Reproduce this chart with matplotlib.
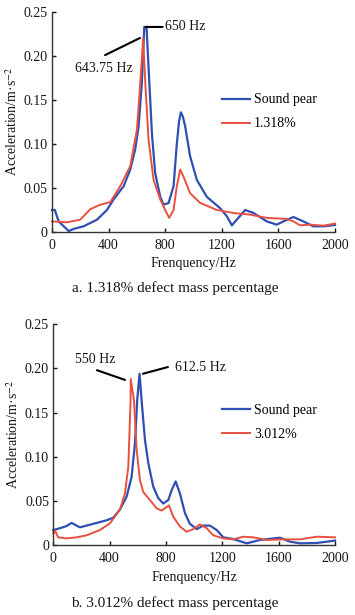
import matplotlib
matplotlib.use("Agg")
import matplotlib.pyplot as plt

plt.rcParams['font.family'] = ['Liberation Serif', 'DejaVu Serif']
plt.rcParams['mathtext.fontset'] = 'stix'

# ---- Panel a data ----
a_sound_f = [0, 20, 47, 118, 153, 224, 318, 388, 435, 506, 553, 588, 612, 635, 652, 668,
             682, 706, 729, 765, 788, 824, 859, 882, 898, 911, 925, 941, 976, 1024, 1094, 1188, 1235,
             1271, 1306, 1365, 1424, 1518, 1588, 1635, 1706, 1776, 1847, 1918, 2000]
a_sound_v = [0.025, 0.025, 0.012, 0.001, 0.0035, 0.0065, 0.014, 0.025, 0.037, 0.052, 0.071,
             0.094, 0.12, 0.17, 0.233, 0.233, 0.188, 0.112, 0.067, 0.040, 0.031, 0.033, 0.052,
             0.10, 0.126, 0.136, 0.131, 0.12, 0.086, 0.059, 0.040, 0.027, 0.018, 0.0076, 0.014, 0.025, 0.0216,
             0.012, 0.0083, 0.012, 0.017, 0.012, 0.0064, 0.0064, 0.008]
a_defect_f = [0, 106, 200, 271, 341, 412, 482, 553, 600, 624, 643.75, 659, 682, 718, 765, 800,
              828, 859, 882, 906, 929, 976, 1047, 1165, 1282, 1400, 1518, 1659, 1706, 1753,
              1824, 1918, 2000]
a_defect_v = [0.012, 0.011, 0.014, 0.026, 0.031, 0.034, 0.052, 0.075, 0.116, 0.17, 0.220, 0.17,
              0.105, 0.059, 0.037, 0.025, 0.016, 0.025, 0.052, 0.071, 0.063, 0.044, 0.033,
              0.025, 0.0216, 0.0197, 0.016, 0.0148, 0.012, 0.0076, 0.0083, 0.0072, 0.0095]

# ---- Panel b data ----
b_sound_f = [0, 47, 95, 130, 189, 284, 379, 426, 473, 521, 556, 580, 596, 612.5, 627, 651, 675,
             710, 746, 781, 817, 840, 869, 899, 935, 970, 1018, 1065, 1112, 1160, 1207, 1278,
             1373, 1467, 1562, 1609, 1680, 1751, 1870, 2000]
b_sound_v = [0.017, 0.019, 0.0215, 0.025, 0.020, 0.024, 0.028, 0.031, 0.040, 0.055, 0.077,
             0.115, 0.164, 0.194, 0.164, 0.119, 0.0925, 0.066, 0.053, 0.047, 0.051, 0.062,
             0.072, 0.0585, 0.036, 0.024, 0.018, 0.022, 0.022, 0.017, 0.0087, 0.0068, 0.0019,
             0.0057, 0.0075, 0.0083, 0.0038, 0.0019, 0.0023, 0.005]
b_defect_f = [0, 10, 35, 95, 166, 237, 331, 402, 473, 509, 533, 549, 550, 573, 592, 615, 639,
              686, 734, 769, 805, 821, 852, 899, 947, 994, 1041, 1089, 1136, 1207, 1278, 1349,
              1420, 1515, 1633, 1751, 1870, 2000]
b_defect_v = [0.013, 0.017, 0.0087, 0.0075, 0.0087, 0.011, 0.017, 0.0245, 0.040, 0.0585, 0.089,
              0.164, 0.188, 0.164, 0.108, 0.074, 0.060, 0.051, 0.0415, 0.039, 0.043, 0.045,
              0.032, 0.021, 0.015, 0.018, 0.0234, 0.019, 0.011, 0.0075, 0.0064, 0.0094, 0.0087,
              0.0057, 0.0064, 0.0064, 0.0094, 0.0087]

x_ticks = [0, 400, 800, 1200, 1600, 2000]
y_ticks = [0, 0.05, 0.10, 0.15, 0.20, 0.25]
y_ticklabels = ['0', '0.05', '0.10', '0.15', '0.20', '0.25']

BLUE = '#2f4fb3'
RED = '#e8503f'
TXT = '#151515'
FS = 10

fig = plt.figure(figsize=(3.55, 6.15), dpi=100)
ax1 = fig.add_axes([0.1465, 0.6228, 0.7972, 0.3577])
ax2 = fig.add_axes([0.150, 0.1138, 0.7937, 0.3589])


def style(ax):
    ax.set_xlim(0, 2000)
    ax.set_ylim(0, 0.25)
    ax.set_xticks(x_ticks)
    ax.set_xticklabels([str(t) for t in x_ticks])
    ax.set_yticks(y_ticks)
    ax.set_yticklabels(y_ticklabels)
    for s in ['top', 'right']:
        ax.spines[s].set_visible(False)
    for s in ['left', 'bottom']:
        ax.spines[s].set_linewidth(1.0)
        ax.spines[s].set_color('#333333')
    ax.tick_params(direction='in', length=3, width=1.0, labelsize=FS, colors=TXT)
    ax.tick_params(axis='x', pad=5)
    ax.tick_params(axis='y', pad=3)
    ax.set_xlabel('Frenquency/Hz', fontsize=FS, labelpad=4, color=TXT)
    ax.set_ylabel('Acceleration/m·s$^{-2}$', fontsize=FS, labelpad=3, color=TXT)
    ax.patch.set_alpha(0)


def leader(ax, start, end):
    ax.annotate('', xy=end, xytext=start,
                arrowprops=dict(arrowstyle='-', color='black', lw=1.5, shrinkA=0, shrinkB=0))


# Panel a
ax1.plot(a_sound_f, a_sound_v, color=BLUE, lw=1.6, label='Sound pear', clip_on=False)
ax1.plot(a_defect_f, a_defect_v, color=RED, lw=1.4, label='1.318%', clip_on=False)
style(ax1)
leader(ax1, (660, 0.233), (782, 0.233))
ax1.text(798, 0.233, '650 Hz', fontsize=FS, va='center', ha='left', color=TXT)
leader(ax1, (375, 0.201), (622, 0.2205))
ax1.text(367, 0.186, '643.75 Hz', fontsize=FS, va='center', ha='center', color=TXT)
ax1.legend(loc='upper left', bbox_to_anchor=(0.60, 0.63), frameon=False, fontsize=FS,
           handlelength=2.0, handletextpad=0.3, labelspacing=0.8, borderpad=0, borderaxespad=0)

# Panel b
ax2.plot(b_sound_f, b_sound_v, color=BLUE, lw=1.6, label='Sound pear', clip_on=False)
ax2.plot(b_defect_f, b_defect_v, color=RED, lw=1.4, label='3.012%', clip_on=False)
style(ax2)
leader(ax2, (310, 0.198), (509, 0.187))
ax2.text(296, 0.2096, '550 Hz', fontsize=FS, va='center', ha='center', color=TXT)
leader(ax2, (637, 0.194), (814, 0.2016))
ax2.text(865, 0.2016, '612.5 Hz', fontsize=FS, va='center', ha='left', color=TXT)
ax2.legend(loc='upper left', bbox_to_anchor=(0.60, 0.64), frameon=False, fontsize=FS,
           handlelength=2.0, handletextpad=0.3, labelspacing=0.8, borderpad=0, borderaxespad=0)

fig.text(0.493, 0.532, 'a. 1.318% defect mass percentage', ha='center', va='center', fontsize=11,
         color=TXT)
fig.text(0.493, 0.0195, 'b. 3.012% defect mass percentage', ha='center', va='center', fontsize=11,
         color=TXT)

fig.savefig('out.png', dpi=100)
